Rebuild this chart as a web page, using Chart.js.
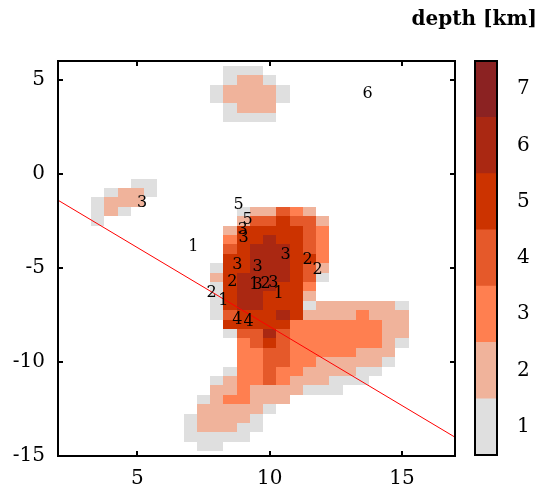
<!DOCTYPE html>
<html lang="en">
<head>
  <meta charset="UTF-8">
  <title>depth map</title>
  <script src="https://cdn.jsdelivr.net/npm/chart.js"></script>
  <style>
    body { margin: 0; background: #fff; }
    .wrap { position: relative; width: 538px; height: 487px; }
    .wrap canvas { position: absolute; left: 0; top: 0; }
  </style>
</head>
<body>
<div class="wrap">
  <canvas id="map" width="538" height="487"></canvas>
  <canvas id="bar" width="538" height="487"></canvas>
</div>
<script>
  // grid of depth levels, one string per row, '.' = no data
  const colStart = 3.5;   // x of first column
  const rowStart = 5.5;   // y of first row
  const cellStep = 0.5;
  const depthRows = [
    "..........111...........",
    "..........1221..........",
    ".........122221.........",
    ".........122221.........",
    "..........1222..........",
    "..........1111..........",
    "........................",
    "........................",
    "........................",
    "........................",
    "........................",
    "........................",
    "...11...................",
    ".1221...................",
    "1222....................",
    "121........122432.......",
    "1..........2445442......",
    "..........25555543......",
    "..........35565543......",
    "..........45666543......",
    "..........55666553......",
    ".........155666542......",
    ".........256666541......",
    ".........15666553.......",
    ".........15665552.......",
    ".........156655512222221",
    ".........145556522223222",
    "..........55555333333322",
    "..........14464333333322",
    "...........3454333333321",
    "...........334433333222.",
    "...........334433222221.",
    "..........133433222211..",
    ".........123343222111...",
    ".........2232222111.....",
    "........1233222.........",
    "........222221..........",
    ".......122221...........",
    ".......122211...........",
    ".......11111............",
    "........11.............."
  ];

  const levels = [1, 2, 3, 4, 5, 6, 7];
  const levelColors = ['#dfdfdf', '#f0b39b', '#ff7f50', '#e5592a', '#cc3300', '#aa2812', '#8b2222'];

  const xTicks = [5, 10, 15];
  const yTicks = [5, 0, -5, -10, -15];

  const lineX = [2, 17];
  const lineY = [-1.4, -14.0];

  const labelText = ['6', '3', '5', '5', '3', '3', '1', '3', '2', '2', '3', '3', '2', '1', '3', '2', '3', '1', '2', '1', '4', '4'];
  const labelX = [13.70, 5.18, 8.82, 9.16, 8.97, 9.01, 7.11, 10.60, 11.43, 11.81, 8.78, 9.54, 8.59, 9.42, 9.54, 9.84, 10.14, 10.33, 7.80, 8.25, 8.78, 9.20];
  const labelY = [4.27, -1.53, -1.63, -2.43, -2.96, -3.39, -3.87, -4.30, -4.56, -5.09, -4.82, -4.93, -5.73, -5.89, -5.89, -5.84, -5.78, -6.37, -6.32, -6.74, -7.76, -7.86];

  const serif = '"DejaVu Serif", serif';

  const cellPlugin = {
    id: 'cells',
    beforeDatasetsDraw(chart) {
      const { ctx, scales: { x, y } } = chart;
      ctx.save();
      depthRows.forEach((row, r) => {
        const cy = rowStart - r * cellStep;
        [...row].forEach((ch, c) => {
          if (ch === '.') return;
          const cx = colStart + c * cellStep;
          const l = Math.round(x.getPixelForValue(cx - cellStep / 2));
          const rt = Math.round(x.getPixelForValue(cx + cellStep / 2));
          const t = Math.round(y.getPixelForValue(cy + cellStep / 2));
          const b = Math.round(y.getPixelForValue(cy - cellStep / 2));
          ctx.fillStyle = levelColors[+ch - 1];
          ctx.fillRect(l, t, rt - l, b - t);
        });
      });
      ctx.restore();
    },
    afterDatasetsDraw(chart) {
      const { ctx, scales: { x, y } } = chart;
      ctx.save();
      ctx.fillStyle = '#000';
      ctx.font = '16px ' + serif;
      ctx.textAlign = 'center';
      ctx.textBaseline = 'middle';
      labelText.forEach((t, i) => {
        ctx.fillText(t, x.getPixelForValue(labelX[i]), y.getPixelForValue(labelY[i]));
      });
      ctx.restore();
    }
  };

  // frame and inward ticks
  const framePlugin = {
    id: 'frame',
    afterDraw(chart, args, opts) {
      const { ctx, chartArea: a } = chart;
      ctx.save();
      ctx.strokeStyle = '#000';
      ctx.lineWidth = 2;
      ctx.strokeRect(a.left, a.top, a.right - a.left, a.bottom - a.top);
      if (opts.ticks) {
        const { x, y } = chart.scales;
        ctx.beginPath();
        xTicks.forEach(v => {
          const px = Math.round(x.getPixelForValue(v));
          ctx.moveTo(px, a.bottom); ctx.lineTo(px, a.bottom - 5);
          ctx.moveTo(px, a.top); ctx.lineTo(px, a.top + 5);
        });
        yTicks.forEach(v => {
          const py = Math.round(y.getPixelForValue(v));
          ctx.moveTo(a.left, py); ctx.lineTo(a.left + 5, py);
          ctx.moveTo(a.right, py); ctx.lineTo(a.right - 5, py);
        });
        ctx.stroke();
      }
      if (opts.title) {
        ctx.fillStyle = '#000';
        ctx.font = 'bold 20px ' + serif;
        ctx.textAlign = 'right';
        ctx.textBaseline = 'middle';
        ctx.fillText(opts.title, 537, 20);
      }
      ctx.restore();
    }
  };

  new Chart(document.getElementById('map'), {
    type: 'scatter',
    data: {
      datasets: [{
        data: lineX.map((v, i) => ({ x: v, y: lineY[i] })),
        showLine: true,
        borderColor: '#ff0000',
        borderWidth: 1,
        pointRadius: 0
      }]
    },
    options: {
      responsive: false,
      animation: false,
      layout: { padding: { left: 0, top: 61, right: 83, bottom: 0 } },
      plugins: { legend: { display: false }, tooltip: { enabled: false }, frame: { ticks: true } },
      scales: {
        x: {
          type: 'linear', min: 2, max: 17,
          grid: { display: false, drawTicks: false },
          border: { display: false },
          afterBuildTicks: s => { s.ticks = xTicks.map(v => ({ value: v })); },
          afterFit: s => { s.height = 31; },
          ticks: { color: '#000', padding: 11, font: { family: serif, size: 20 } }
        },
        y: {
          type: 'linear', min: -15, max: 6,
          grid: { display: false, drawTicks: false },
          border: { display: false },
          afterBuildTicks: s => { s.ticks = yTicks.map(v => ({ value: v })); },
          afterFit: s => { s.width = 58; },
          ticks: { color: '#000', padding: 13, font: { family: serif, size: 20 } }
        }
      }
    },
    plugins: [cellPlugin, framePlugin]
  });

  new Chart(document.getElementById('bar'), {
    type: 'bar',
    data: {
      labels: ['depth'],
      datasets: levels.map((v, i) => ({
        data: [[v - 0.5, v + 0.5]],
        backgroundColor: levelColors[i],
        borderWidth: 0,
        barPercentage: 1,
        categoryPercentage: 1
      }))
    },
    options: {
      responsive: false,
      animation: false,
      layout: { padding: { left: 475, top: 61, right: 0, bottom: 31 } },
      plugins: { legend: { display: false }, tooltip: { enabled: false }, frame: { title: 'depth [km]' } },
      scales: {
        x: { display: false, stacked: true },
        y: {
          type: 'linear', position: 'right', min: 0.5, max: 7.5,
          grid: { display: false, drawTicks: false },
          border: { display: false },
          afterBuildTicks: s => { s.ticks = levels.map(v => ({ value: v })); },
          afterFit: s => { s.width = 41; },
          ticks: { color: '#000', padding: 20, font: { family: serif, size: 20 } }
        }
      }
    },
    plugins: [framePlugin]
  });
</script>
</body>
</html>
